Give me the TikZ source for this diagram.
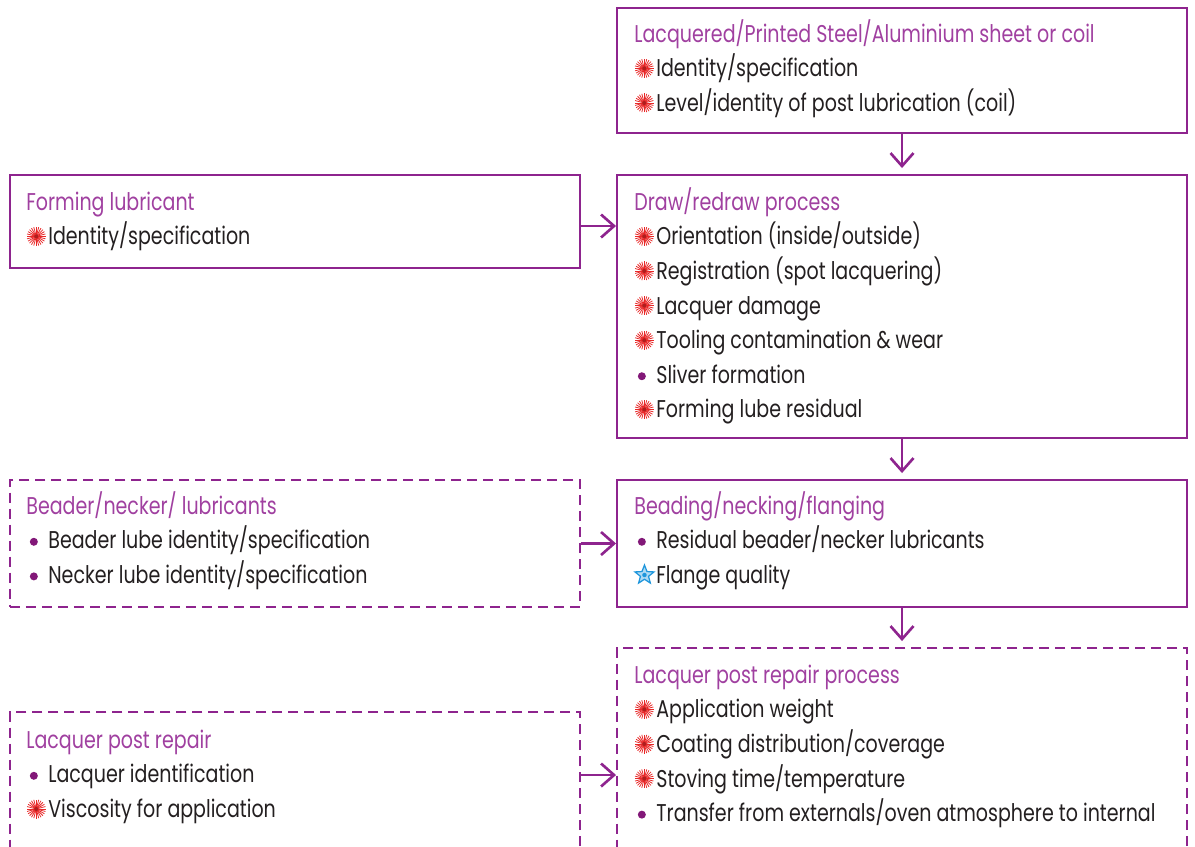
\documentclass[tikz,border=0pt]{standalone}
\usepackage{fontspec}
\setmainfont[FakeStretch=0.785]{Poppins}
\usetikzlibrary{arrows.meta, fit}

\definecolor{boxpurple}{RGB}{142,36,142}
\definecolor{titlepurple}{RGB}{160,64,160}
\definecolor{bodygray}{RGB}{35,31,32}
\definecolor{burstred}{RGB}{232,40,40}
\definecolor{dotpurple}{RGB}{130,24,120}
\definecolor{starblue}{RGB}{30,150,220}

\newcommand{\fs}{\fontsize{13.8}{19.7}\selectfont}
\newcommand{\ttl}[1]{\rule{0pt}{13pt}{\color{titlepurple}#1}}
\newcommand{\bst}{\makebox[0.44cm][l]{\tikz[x=1cm,y=1cm,baseline=-4.8pt]{%
  \foreach \a in {0,15,...,345}{\draw[burstred, solid, line width=0.45pt] (0.19,0) -- ++(\a:0.19);}
  \fill[burstred!75!black] (0.19,0) circle (0.04);}}}
\newcommand{\bdot}{\makebox[0.44cm][l]{\tikz[x=1cm,y=1cm,baseline=-4pt]{%
  \path (0,0) -- (0.28,0);
  \fill[dotpurple] (0.15,0) circle (0.08);}}}
\newcommand{\bstar}{\makebox[0.44cm][l]{\tikz[x=1cm,y=1cm,baseline=-4.8pt]{%
  \path (0,0) -- (0.4,0);
  \begin{scope}[shift={(0.2,0)}]
  \draw[starblue, fill=starblue!35, solid, line width=0.7pt] (90:0.2)
    \foreach \i in {1,...,9}{ -- ({90+36*\i}:{mod(\i,2)==0 ? 0.2 : 0.085})} -- cycle;
  \fill[starblue] (0,0) circle (0.045);
  \end{scope}}}}

\begin{document}
\begin{tikzpicture}[x=0.02cm, y=-0.02cm,
  box/.style={draw=boxpurple, line width=1.1pt, inner sep=0pt},
  dbox/.style={box, dash pattern=on 0.2cm off 0.12cm},
  txt/.style={anchor=north west, inner sep=0pt, align=left, text=bodygray, font=\fs},
  flow/.style={draw=boxpurple, line width=1.5pt, -{Straight Barb[length=0.26cm, width=0.46cm]}}]

\clip (0,0) rectangle (1195,846);

% process column
\node[box, fit={(617,8) (1187,133)}] (sheet) {};
\node[box, fit={(617,175) (1187,438)}] (drawp) {};
\node[box, fit={(617,480) (1187,607)}] (beading) {};
\node[dbox, fit={(617,648) (1187,900)}] (lacproc) {};

% inputs
\node[box, fit={(10,175) (580,268)}] (formlube) {};
\node[dbox, fit={(10,480) (580,607)}] (beaderlube) {};
\node[dbox, fit={(10,712) (580,900)}] (lacrepair) {};

\node[txt] (sheettxt) at (634,19) {\ttl{Lacquered/Printed Steel/Aluminium sheet or coil}\\
  \bst Identity/specification\\
  \bst Level/identity of post lubrication (coil)};
\node[txt] (drawtxt) at (634,187) {\ttl{Draw/redraw process}\\
  \bst Orientation (inside/outside)\\
  \bst Registration (spot lacquering)\\
  \bst Lacquer damage\\
  \bst Tooling contamination \& wear\\
  \bdot Sliver formation\\
  \bst Forming lube residual};
\node[txt] (beadtxt) at (634,491) {\ttl{Beading/necking/flanging}\\
  \bdot Residual beader/necker lubricants\\
  \bstar Flange quality};
\node[txt] (proctxt) at (634,660) {\ttl{Lacquer post repair process}\\
  \bst Application weight\\
  \bst Coating distribution/coverage\\
  \bst Stoving time/temperature\\
  \bdot Transfer from externals/oven atmosphere to internal};

\node[txt] (formtxt) at (26,187) {\ttl{Forming lubricant}\\
  \bst Identity/specification};
\node[txt] (beadertxt) at (26,491) {\ttl{Beader/necker/ lubricants}\\
  \bdot Beader lube identity/specification\\
  \bdot Necker lube identity/specification};
\node[txt] (repairtxt) at (26,725) {\ttl{Lacquer post repair}\\
  \bdot Lacquer identification\\
  \bst Viscosity for application};

% arrows
\coordinate (f1) at (0,226);
\coordinate (f3) at (0,775);
\draw[flow, shorten >=0.12cm] (sheet) -- (drawp);
\draw[flow, shorten >=0.12cm] (drawp) -- (beading);
\draw[flow, shorten >=0.12cm] (beading.south) -- (beading.south |- lacproc.north);
\draw[flow] (formlube.east |- f1) -- (drawp.west |- f1);
\draw[flow] (beaderlube) -- (beading);
\draw[flow] (lacrepair.east |- f3) -- (lacproc.west |- f3);
\end{tikzpicture}
\end{document}
